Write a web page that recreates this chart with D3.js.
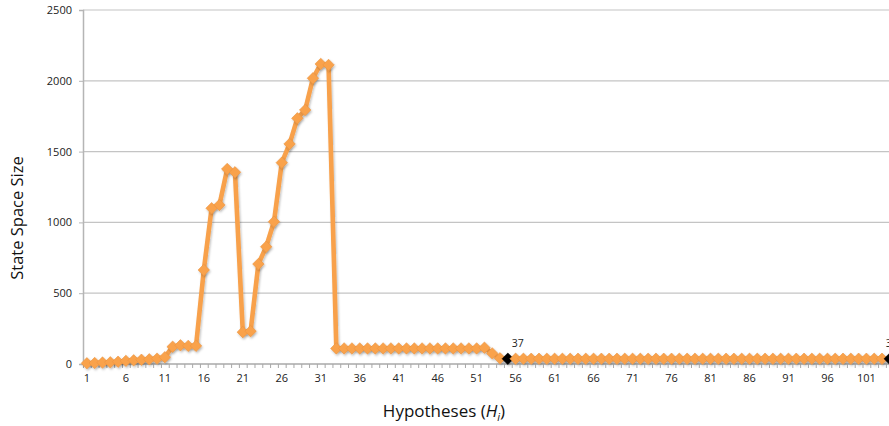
<!DOCTYPE html>
<html><head><meta charset="utf-8">
<script src="https://cdn.jsdelivr.net/npm/d3@7"></script>
<style>
html,body{margin:0;padding:0;background:#fff;}
svg{display:block;font-family:"Open Sans",sans-serif;}
</style></head>
<body><svg id="c" width="889" height="426"></svg>
<script>
// ---- data ----
const categories = d3.range(1, 105); // hypotheses H1..H104
const valuesHead = [5,7,10,12,16,22,26,30,33,38,48,122,132,128,128,
  664,1100,1123,1377,1354,225,232,706,828,1005,1422,1554,1735,1794,2018,2119,2112];
const valuesPlateau = [110,110,110,110,110,110,110,110,110,110,110,110,110,110,110,110,110,110,110,115];
const valuesDrop = [75,40];
const valuesTail = Array(50).fill(37);
const values = valuesHead.concat(valuesPlateau, valuesDrop, valuesTail);
const labeledPoints = [55, 104];
const yTicks = [0,500,1000,1500,2000,2500];
const xLabelEvery = 5;

// ---- layout ----
const svg = d3.select("#c");
const pL = 83, pT = 10, pB = 364;
const step = 7.795;
const pR = pL + categories.length * step;

const x = d3.scaleBand().domain(categories).range([pL, pR]).padding(0);
const xb = d3.scaleLinear().domain([0, categories.length]).range([pL, pR]);
const y = d3.scaleLinear().domain([0, 2500]).range([pB, pT]);

// gridlines
svg.append("g").selectAll("line").data(yTicks.filter(d=>d>0)).join("line")
  .attr("x1", pL).attr("x2", 889)
  .attr("y1", d=>y(d)).attr("y2", d=>y(d))
  .attr("stroke", "#c4c4c4").attr("stroke-width", 1.2);

// y axis
const ya = svg.append("g").attr("transform", `translate(${pL},0)`)
  .call(d3.axisLeft(y).tickValues(yTicks).tickFormat(d3.format("d")).tickSize(4).tickPadding(7));
ya.select(".domain").attr("stroke", "#b5b5b5").attr("stroke-width", 1.5);
ya.selectAll(".tick line").attr("stroke", "#b5b5b5");
ya.selectAll("text").attr("font-size", 11).attr("fill", "#222").attr("font-family", "Open Sans");

// x axis boundary ticks
const xt = svg.append("g").attr("transform", `translate(0,${pB})`)
  .call(d3.axisBottom(xb).tickValues(d3.range(0, categories.length + 1)).tickSize(4).tickFormat(""));
xt.select(".domain").attr("stroke", "#a8a8a8").attr("stroke-width", 1.5).attr("d", `M${pL},0H889`);
xt.selectAll(".tick line").attr("stroke", "#a8a8a8");

// x labels
const xl = svg.append("g").attr("transform", `translate(0,${pB})`)
  .call(d3.axisBottom(x).tickSize(0).tickPadding(10)
    .tickValues(categories.filter(c => (c - 1) % xLabelEvery === 0)));
xl.select(".domain").remove();
xl.selectAll("text").attr("font-size", 11).attr("fill", "#222").attr("font-family", "Open Sans");

// shadow filter
const defs = svg.append("defs");
const f = defs.append("filter").attr("id","sh").attr("x","-50%").attr("y","-50%").attr("width","200%").attr("height","200%");
f.append("feDropShadow").attr("dx",1).attr("dy",1.5).attr("stdDeviation",1).attr("flood-color","#000").attr("flood-opacity",0.25);

const pts = categories.map((c,i)=>({c, v: values[i]}));
const cx = d => x(d.c) + x.bandwidth()/2;

// line
svg.append("path").datum(pts)
  .attr("fill","none").attr("stroke","#f8a14b").attr("stroke-width",4.6)
  .attr("stroke-linejoin","round")
  .attr("filter","url(#sh)")
  .attr("d", d3.line().x(cx).y(d=>y(d.v)));

// markers
const diamond = d3.symbol().type(d3.symbolDiamond2).size(84);
svg.append("g").attr("filter","url(#sh)").selectAll("path").data(pts).join("path")
  .attr("transform", d=>`translate(${cx(d)},${y(d.v)})`)
  .attr("d", diamond)
  .attr("fill", d => labeledPoints.includes(d.c) ? "#000" : "#f9a24c")
  .attr("stroke", d => labeledPoints.includes(d.c) ? "#000" : "#eb9440")
  .attr("stroke-width", 0.6);

// data labels
svg.append("g").selectAll("text").data(pts.filter(d=>labeledPoints.includes(d.c))).join("text")
  .attr("x", d => cx(d) + (d.c === categories[categories.length-1] ? -4 : 4))
  .attr("y", d => y(d.v) - 12)
  .attr("font-size", 10.5).attr("fill", "#222")
  .text(d => d.v);

// axis titles
svg.append("text").attr("transform","translate(23,218) rotate(-90)")
  .attr("text-anchor","middle").attr("font-size",16.5).attr("fill","#111")
  .text("State Space Size");
const xtitle = svg.append("text").attr("x",444).attr("y",417)
  .attr("text-anchor","middle").attr("font-size",17).attr("fill","#111");
xtitle.append("tspan").text("Hypotheses (");
xtitle.append("tspan").attr("font-style","italic").text("H");
xtitle.append("tspan").attr("font-style","italic").attr("font-size",11).attr("dy",4).text("i");
xtitle.append("tspan").attr("dy",-4).text(")");
</script></body></html>
